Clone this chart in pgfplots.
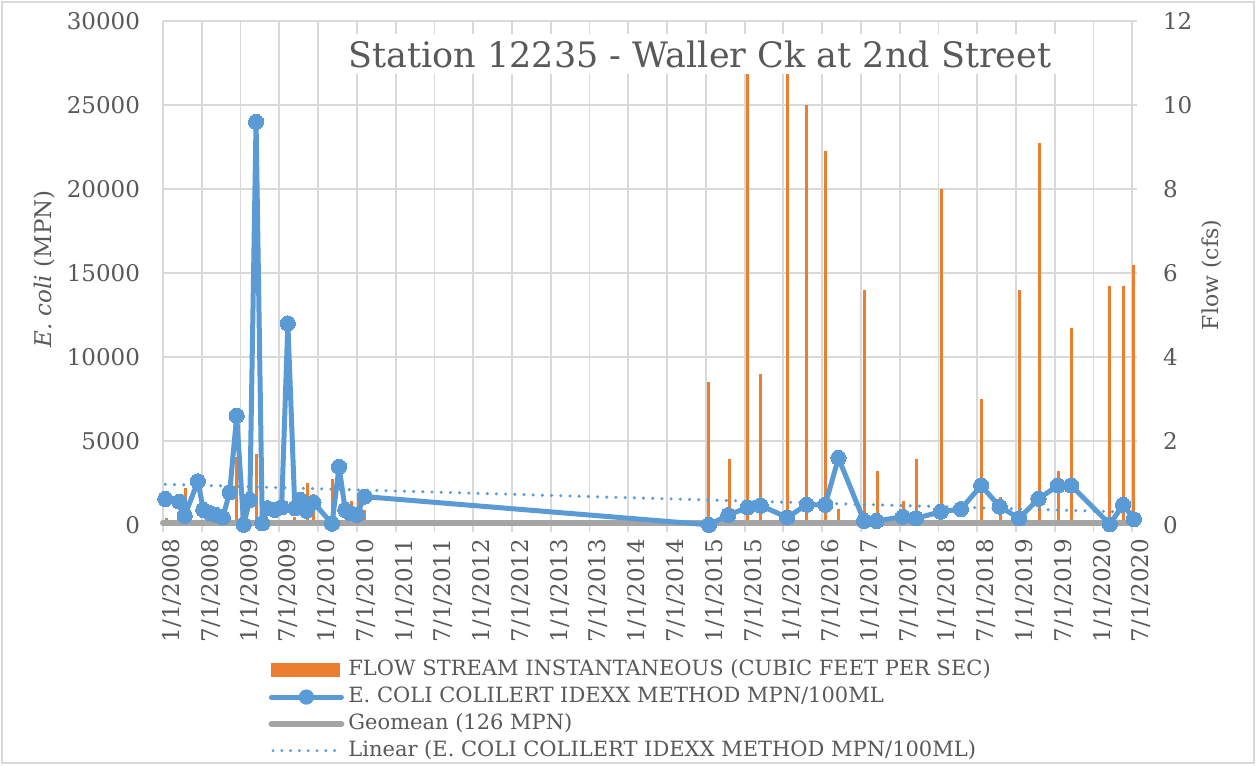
\documentclass[border=0pt]{standalone}
\usepackage{fontspec}
\setmainfont{DejaVu Serif}
\usepackage{pgfplots}
\pgfplotsset{compat=1.18}
\definecolor{exblue}{HTML}{5B9BD5}
\definecolor{exorange}{HTML}{ED7D31}
\definecolor{exgray}{HTML}{A5A5A5}
\definecolor{gridgray}{HTML}{D9D9D9}
\definecolor{txtgray}{HTML}{595959}
\pgfplotsset{/pgf/number format/assume math mode=true}

\pgfplotstableread{
x y
2008.03 1550
2008.21 1390
2008.28 550
2008.45 2600
2008.52 900
2008.61 700
2008.68 600
2008.77 450
2008.86 1950
2008.95 6500
2009.04 10
2009.12 1490
2009.20 24000
2009.28 100
2009.35 1000
2009.44 900
2009.53 1050
2009.61 12000
2009.70 1000
2009.77 1490
2009.85 850
2009.94 1340
2010.18 80
2010.27 3470
2010.35 900
2010.42 700
2010.50 600
2010.60 1690
2015.04 10
2015.29 590
2015.54 1050
2015.71 1150
2016.05 450
2016.30 1210
2016.54 1200
2016.71 3990
2017.04 240
2017.20 240
2017.54 490
2017.71 400
2018.03 790
2018.29 950
2018.55 2350
2018.79 1090
2019.04 400
2019.29 1560
2019.54 2350
2019.71 2350
2020.21 40
2020.38 1210
2020.52 340
}\ecoli

\pgfplotstableread{
x y
2008.04 0.17
2008.29 0.87
2008.95 1.63
2009.20 1.69
2009.70 0.20
2009.86 0.99
2009.94 0.74
2010.19 1.09
2010.43 0.58
2010.52 0.58
2010.60 0.35
2015.04 3.4
2015.30 1.58
2015.54 11.5
2015.71 3.6
2016.05 11.5
2016.30 10.0
2016.54 8.9
2016.71 0.38
2017.04 5.6
2017.21 1.28
2017.55 0.57
2017.71 1.58
2018.04 8.0
2018.55 3.0
2018.80 0.66
2019.05 5.6
2019.30 9.1
2019.55 1.29
2019.71 4.7
2020.21 5.7
2020.38 5.7
2020.52 6.2
}\flow

\begin{document}
\begin{tikzpicture}
\path[use as bounding box] (0pt,0pt) rectangle (628pt,382.5pt);
\fill[white] (0pt,0pt) rectangle (628pt,382.5pt);
\draw[gridgray, line width=0.75pt] (1pt,1pt) rectangle (627pt,381.5pt);

% Flow axis (right)
\begin{axis}[
  at={(81.5pt,120pt)}, anchor=south west,
  scale only axis, width=487pt, height=252pt,
  xmin=2008, xmax=2020.56, ymin=0, ymax=12,
  axis y line*=right, axis x line*=bottom,
  axis line style={draw=none},
  clip=false,
  xtick={2008,2008.5,2009,2009.5,2010,2010.5,2011,2011.5,2012,2012.5,2013,2013.5,2014,2014.5,2015,2015.5,2016,2016.5,2017,2017.5,2018,2018.5,2019,2019.5,2020,2020.5},
  xticklabels={1/1/2008,7/1/2008,1/1/2009,7/1/2009,1/1/2010,7/1/2010,1/1/2011,7/1/2011,1/1/2012,7/1/2012,1/1/2013,7/1/2013,1/1/2014,7/1/2014,1/1/2015,7/1/2015,1/1/2016,7/1/2016,1/1/2017,7/1/2017,1/1/2018,7/1/2018,1/1/2019,7/1/2019,1/1/2020,7/1/2020},
  ytick={0,2,4,6,8,10,12},
  scaled x ticks=false, scaled y ticks=false,
  grid=major, major grid style={gridgray, line width=0.9pt},
  tick align=outside, major tick length=3.5pt,
  xtick style={gridgray, line width=0.9pt},
  ytick style={draw=none},
  xticklabel style={rotate=90, anchor=east, yshift=-4.5pt, font=\fontsize{11.5}{13}\selectfont, text=txtgray},
  yticklabel style={anchor=west, xshift=6pt, font=\fontsize{11.5}{13}\selectfont, text=txtgray},
]
\addplot[ycomb, exorange, line width=1.5pt, no markers] table[x=x,y=y] {\flow};
\end{axis}

% E. coli axis (left)
\begin{axis}[
  at={(81.5pt,120pt)}, anchor=south west,
  scale only axis, width=487pt, height=252pt,
  xmin=2008, xmax=2020.56, ymin=0, ymax=30000,
  axis y line*=left, hide x axis,
  axis line style={draw=none},
  ytick={0,5000,10000,15000,20000,25000,30000},
  scaled y ticks=false,
  /pgf/number format/1000 sep={},
  ytick style={draw=none},
  yticklabel style={anchor=east, xshift=-8pt, font=\fontsize{11.5}{13}\selectfont, text=txtgray},
  clip=false,
  legend style={at={(0.1078,-0.262)}, anchor=north west, draw=none, fill=none,
    font=\fontsize{10.5}{12}\selectfont, text=txtgray, inner sep=0pt, row sep=0.6pt,
    nodes={text height=8.2pt, text depth=2.6pt, inner xsep=2pt, inner ysep=1pt}},
  legend cell align=left,
]
\addplot[exgray, line width=3pt, line cap=round, forget plot] coordinates {(2008,126) (2020.54,126)};
\addplot[exblue, line width=1.7pt, line cap=round, dash pattern=on 0pt off 4.6pt, forget plot] coordinates {(2008.03,2420) (2020.52,760)};
\addplot[exblue, line width=2.5pt, line join=round, mark=*, mark size=3.8pt, mark options={fill=exblue, draw=exblue, line width=0pt}, forget plot] table[x=x,y=y] {\ecoli};

\addlegendimage{legend image code/.code={\fill[exorange] (0pt,-3.3pt) rectangle (34pt,3.3pt);}}
\addlegendentry{FLOW STREAM INSTANTANEOUS (CUBIC FEET PER SEC)}
\addlegendimage{legend image code/.code={\draw[exblue, line width=2.5pt, line cap=round] (0pt,0pt) -- (35pt,0pt); \fill[exblue] (17.5pt,0pt) circle (3.6pt);}}
\addlegendentry{E. COLI COLILERT IDEXX METHOD MPN/100ML}
\addlegendimage{legend image code/.code={\draw[exgray, line width=3pt, line cap=round] (0pt,0pt) -- (35pt,0pt);}}
\addlegendentry{Geomean (126 MPN)}
\addlegendimage{legend image code/.code={\draw[exblue, line width=1.6pt, line cap=round, dash pattern=on 0pt off 4.4pt] (0.8pt,0pt) -- (35pt,0pt);}}
\addlegendentry{Linear (E. COLI COLILERT IDEXX METHOD MPN/100ML)}
\end{axis}

\node[fill=white, inner xsep=6pt, inner ysep=3pt, text=txtgray, font=\fontsize{17.5}{20}\selectfont] at (350pt,355.5pt) {Station 12235 - Waller Ck at 2nd Street};
\node[rotate=90, text=txtgray, font=\fontsize{11.5}{13}\selectfont] at (22.5pt,248pt) {\textit{E. coli} (MPN)};
\node[rotate=90, text=txtgray, font=\fontsize{11}{13}\selectfont] at (606pt,245pt) {Flow (cfs)};
\end{tikzpicture}
\end{document}
